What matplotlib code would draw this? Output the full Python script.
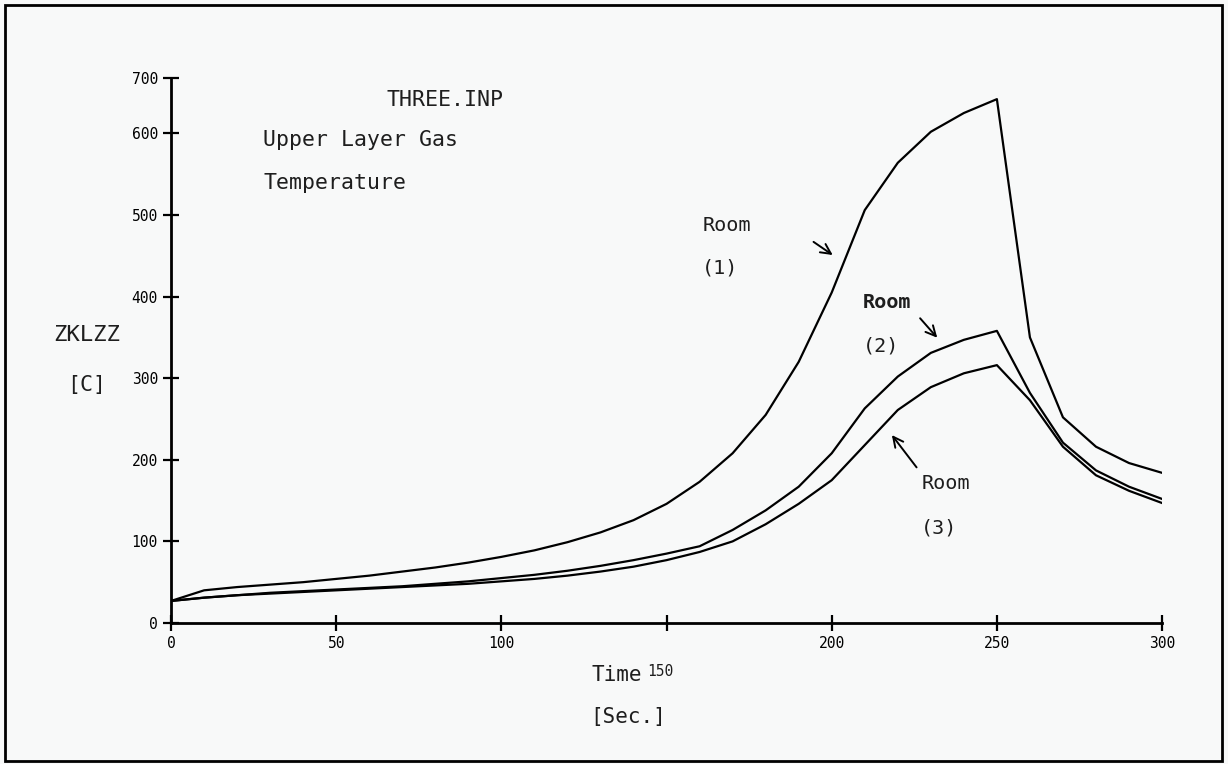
import matplotlib
matplotlib.use('Agg')
from matplotlib import pyplot as plt
from matplotlib.patches import Rectangle

plt.rcParams['font.family'] = ['DejaVu Sans Mono', 'DejaVu Sans']

# Tiempo (s) y temperatura de la capa superior (C) por cuarto
time = [0, 10, 20, 30, 40, 50, 60, 70, 80, 90, 100, 110, 120, 130, 140, 150,
        160, 170, 180, 190, 200, 210, 220, 230, 240, 250, 260, 270, 280, 290, 300]
room_1 = [27, 40, 44, 47, 50, 54, 58, 63, 68, 74, 81, 89, 99, 111, 126, 146,
          173, 208, 255, 320, 405, 506, 564, 602, 625, 642, 350, 252, 216, 196, 184]
room_2 = [27, 31, 34, 37, 39, 41, 43, 45, 48, 51, 55, 59, 64, 70, 77, 85,
          94, 114, 138, 167, 208, 263, 302, 331, 347, 358, 282, 221, 187, 167, 152]
room_3 = [27, 31, 34, 36, 38, 40, 42, 44, 46, 48, 51, 54, 58, 63, 69, 77,
          87, 100, 121, 146, 175, 218, 261, 289, 306, 316, 273, 216, 181, 162, 147]

x_ticks = [0, 50, 100, 150, 200, 250, 300]
x_tick_labels = ['0', '50', '100', '', '200', '250', '300']
y_top = 668
y_ticks = [0, 100, 200, 300, 400, 500, 600, y_top]
y_tick_labels = ['0', '100', '200', '300', '400', '500', '600', '700']

bg = '#f8f9f9'
ink = '#1e1e1e'
fig = plt.figure(figsize=(12.28, 7.64), dpi=100, facecolor=bg)
fig.patches.append(Rectangle((0.004, 0.004), 0.991, 0.989, transform=fig.transFigure,
                             fill=False, edgecolor='black', linewidth=2))

ax = fig.add_axes([0.1393, 0.1846, 0.807, 0.7134], facecolor=bg)
for serie in (room_1, room_2, room_3):
    ax.plot(time, serie, color='black', linewidth=1.6)

ax.set_xlim(0, 300)
ax.set_ylim(0, y_top)
ax.spines['top'].set_visible(False)
ax.spines['right'].set_visible(False)
ax.spines['left'].set_linewidth(2)
ax.spines['bottom'].set_linewidth(2)
ax.set_xticks(x_ticks)
ax.set_xticklabels(x_tick_labels)
ax.set_yticks(y_ticks)
ax.set_yticklabels(y_tick_labels)
ax.tick_params(direction='inout', length=11, width=1.6, labelsize=10.5, pad=4)
ax.tick_params(axis='y', pad=4)

txt = dict(fontsize=15.5, color=ink, va='center')
ax.text(65.3, 641, 'THREE.INP', **txt)
ax.text(27.9, 592, 'Upper Layer Gas', **txt)
ax.text(27.9, 539, 'Temperature', **txt)

room = dict(fontsize=14.5, color=ink, va='center')
ax.text(160.8, 487, 'Room', **room)
ax.text(160.8, 435, '(1)', **room)
ax.text(209.5, 393, 'Room', fontweight='bold', **room)
ax.text(209.5, 340, '(2)', **room)
ax.text(227.1, 171, 'Room', **room)
ax.text(227.1, 117, '(3)', **room)

arrow = dict(arrowstyle='->', color='black', lw=1.4, mutation_scale=18)
ax.annotate('', xy=(201.0, 449), xytext=(193.8, 469), arrowprops=arrow)
ax.annotate('', xy=(232.5, 347), xytext=(226.2, 376), arrowprops=arrow)
ax.annotate('', xy=(217.7, 233), xytext=(226.2, 188), arrowprops=arrow)

fig.text(0.043, 0.5615, 'ZKLZZ', fontsize=16, color=ink, va='center')
fig.text(0.0546, 0.496, '[C]', fontsize=15.5, color=ink, va='center')
fig.text(0.482, 0.117, 'Time', fontsize=15, color=ink, va='center')
fig.text(0.527, 0.121, '150', fontsize=10.5, color=ink, va='center')
fig.text(0.481, 0.061, '[Sec.]', fontsize=15, color=ink, va='center')

fig.savefig('out.png', dpi=100, facecolor=bg)
